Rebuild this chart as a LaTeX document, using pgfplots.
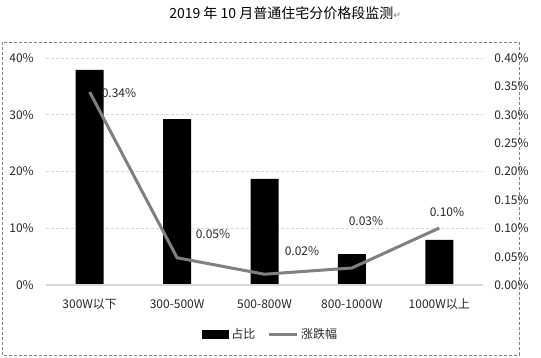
\documentclass[border=0pt]{standalone}
\usepackage{pgfplots}
\pgfplotsset{compat=1.18}
\usepackage{fontspec}
\setmainfont{Noto Sans CJK SC}
\newfontfamily\symfont{DejaVu Sans}
\definecolor{gridc}{HTML}{D9D9D9}
\definecolor{linec}{HTML}{808080}
\definecolor{txt}{HTML}{262626}
\begin{document}
\begin{tikzpicture}
\path[use as bounding box] (0,0) rectangle (405.75pt,267.75pt);
\draw[gray, dash pattern=on 2.25pt off 1.5pt, line width=0.6pt] (1.5pt,1.5pt) rectangle (389.25pt,236.25pt);
\node[anchor=west, inner sep=0pt, font=\fontsize{10.5pt}{12pt}\selectfont, text=black] at (126.75pt,258pt) {2019 年 10 月普通住宅分价格段监测{\symfont\fontsize{7pt}{8pt}\selectfont\color{gray}↵}};
\begin{axis}[
  at={(34.5pt,54pt)}, anchor=south west,
  scale only axis, width=327.75pt, height=170.25pt,
  xmin=-0.5, xmax=4.5, ymin=0, ymax=40,
  xtick={0,...,4},
  xticklabels={300W以下,300-500W,500-800W,800-1000W,1000W以上},
  ytick={0,10,...,40},
  yticklabel={\pgfmathprintnumber[assume math mode=true]{\tick}\%},
  axis line style={draw=none},
  major tick length=0pt,
  ymajorgrids,
  grid style={gridc, dash pattern=on 2.25pt off 1.5pt, line width=0.6pt},
  ticklabel style={font=\fontsize{9pt}{10pt}\selectfont, text=txt, inner sep=0pt},
  yticklabel style={anchor=east, xshift=-9pt},
  xticklabel style={anchor=center, yshift=-14.25pt},
  clip=false,
]
\addplot[ybar, bar width=21pt, fill=black, draw=none] coordinates {(0,37.9) (1,29.25) (2,18.7) (3,5.45) (4,7.93)};
\draw[gridc, line width=0.8pt] (axis cs:-0.5,0) -- (axis cs:4.5,0);
\end{axis}
\begin{axis}[
  at={(34.5pt,54pt)}, anchor=south west,
  scale only axis, width=327.75pt, height=170.25pt,
  xmin=-0.5, xmax=4.5, ymin=0, ymax=0.4,
  axis x line=none,
  axis y line*=right,
  axis line style={draw=none},
  major tick length=0pt,
  ytick={0,0.05,...,0.4},
  yticklabel={\pgfmathprintnumber[assume math mode=true,fixed,fixed zerofill,precision=2]{\tick}\%},
  ticklabel style={font=\fontsize{9pt}{10pt}\selectfont, text=txt, inner sep=0pt},
  yticklabel style={anchor=west, xshift=8.25pt},
  clip=false,
  legend style={at={(0.515,-0.216)}, anchor=center, draw=none, fill=none,
    font=\fontsize{9pt}{10pt}\selectfont, text=txt, legend columns=2,
    /tikz/every even column/.append style={column sep=7pt},
    inner sep=0pt, nodes={inner sep=2pt}},
]
\addlegendimage{legend image code/.code={\fill[black] (0pt,-3pt) rectangle (19.5pt,3pt);}}
\addlegendentry{占比}
\addplot[linec, line width=2.25pt, no markers,
  legend image code/.code={\draw[linec, line width=2.25pt] (0pt,0pt) -- (21pt,0pt);}]
  coordinates {(0,0.34) (1,0.048) (2,0.019) (3,0.03) (4,0.1004)};
\addlegendentry{涨跌幅}
\begin{scope}[every node/.style={font=\fontsize{9pt}{10pt}\selectfont, text=txt, inner sep=0pt}]
\node at (axis cs:0.335,0.3378) {0.34\%};
\node at (axis cs:1.411,0.0899) {0.05\%};
\node at (axis cs:2.429,0.0599) {0.02\%};
\node at (axis cs:3.161,0.1128) {0.03\%};
\node at (axis cs:4.088,0.1292) {0.10\%};
\end{scope}
\end{axis}
\end{tikzpicture}
\end{document}
